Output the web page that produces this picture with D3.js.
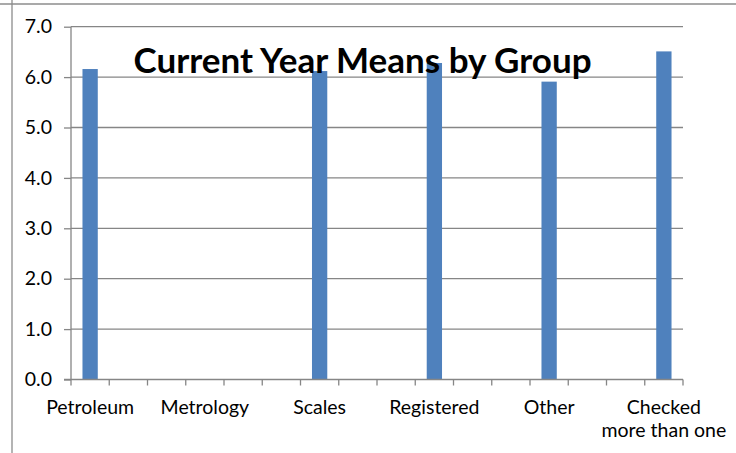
<!DOCTYPE html>
<html>
<head>
<meta charset="utf-8">
<script src="https://cdn.jsdelivr.net/npm/d3@7"></script>
<style>
  body { margin: 0; background: #fff; }
  text { font-family: Lato, "Noto Sans", sans-serif; fill: #000; }
</style>
</head>
<body>
<div class="chartContainer"></div>
<script>
// category slots (only every third one is labelled)
var categories = ["Petroleum", "", "", "Metrology", "", "", "Scales", "", "",
                  "Registered", "", "", "Other", "", "", "Checked\nmore than one"];
var means = [6.16, null, null, null, null, null, 6.12, null, null,
             6.28, null, null, 5.91, null, null, 6.51];
var yTicks = [0, 1, 2, 3, 4, 5, 6, 7];
var title = "Current Year Means by Group";

const width = 736;
const height = 453;
const plot = {left: 71, right: 683, top: 26.7, bottom: 379.5};

const svg = d3.select('.chartContainer')
              .append('svg')
                .attr('width', width)
                .attr('height', height);

// outer frame pieces (chart is cropped)
svg.append('line')
    .attr('x1', 0).attr('x2', width).attr('y1', 4).attr('y2', 4)
    .attr('stroke', '#8c8c8c').attr('stroke-width', 1.3);
svg.append('line')
    .attr('x1', 12).attr('x2', 12).attr('y1', 0).attr('y2', height)
    .attr('stroke', '#8c8c8c').attr('stroke-width', 1.3);

const xScale = d3.scaleBand()
                 .domain(d3.range(categories.length))
                 .range([plot.left, plot.right])
                 .padding(0);

const yScale = d3.scaleLinear()
                 .domain([0, 7])
                 .range([plot.bottom, plot.top]);

// gridlines
svg.append('g')
    .selectAll('line')
    .data(yTicks.slice(1))
    .enter()
      .append('line')
        .attr('x1', plot.left).attr('x2', plot.right)
        .attr('y1', d => yScale(d)).attr('y2', d => yScale(d))
        .attr('stroke', '#868686').attr('stroke-width', 1.3);

// y axis
const yAxis = svg.append('g')
    .attr('transform', `translate(${plot.left}, 0)`)
    .call(d3.axisLeft(yScale).tickValues(yTicks).tickSize(7).tickPadding(12)
            .tickFormat(d3.format('.1f')));
yAxis.selectAll('path, line').attr('stroke', '#868686').attr('stroke-width', 1.3);
yAxis.select('.domain').attr('d', `M0,${plot.top}V${plot.bottom}`);
yAxis.selectAll('text').attr('font-size', 19.5).attr('font-family', 'Lato').attr('fill', '#000');

// bars
const barW = xScale.bandwidth() * 0.4;
svg.append('g')
    .selectAll('rect')
    .data(means.map((v, i) => ({i: i, v: v})).filter(d => d.v !== null))
    .enter()
      .append('rect')
        .attr('x', d => xScale(d.i) + (xScale.bandwidth() - barW) / 2)
        .attr('y', d => yScale(d.v))
        .attr('width', barW)
        .attr('height', d => yScale(0) - yScale(d.v))
        .attr('fill', '#4f81bd');

// x axis: ticks on every category boundary
const bounds = d3.range(categories.length + 1).map(i => plot.left + i * xScale.bandwidth());
const xAxis = svg.append('g');
xAxis.append('line')
    .attr('x1', plot.left - 7).attr('x2', plot.right)
    .attr('y1', plot.bottom).attr('y2', plot.bottom)
    .attr('stroke', '#868686').attr('stroke-width', 1.3);
xAxis.selectAll('line.tick')
    .data(bounds)
    .enter()
      .append('line')
        .attr('class', 'tick')
        .attr('x1', d => d).attr('x2', d => d)
        .attr('y1', plot.bottom).attr('y2', plot.bottom + 6)
        .attr('stroke', '#868686').attr('stroke-width', 1.3);

const labels = xAxis.selectAll('text')
    .data(categories.map((c, i) => ({i: i, c: c})).filter(d => d.c !== ''))
    .enter()
      .append('text')
        .attr('text-anchor', 'middle')
        .attr('font-size', 19.5)
        .attr('transform', d => `translate(${xScale(d.i) + xScale.bandwidth() / 2}, 414)`);
labels.selectAll('tspan')
    .data(d => d.c.split('\n'))
    .enter()
      .append('tspan')
        .attr('x', 0)
        .attr('y', (d, j) => j * 23)
        .text(d => d);

// title drawn last so it sits over the bars
svg.append('text')
    .attr('x', 362.5)
    .attr('y', 72.7)
    .attr('text-anchor', 'middle')
    .attr('font-size', 35)
    .attr('font-weight', 'bold')
    .text(title);
</script>
</body>
</html>
